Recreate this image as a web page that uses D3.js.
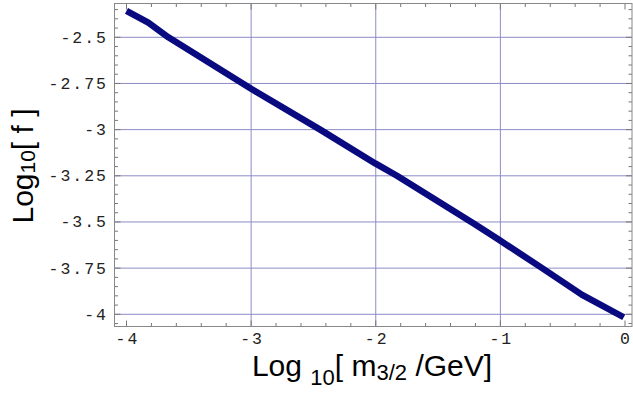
<!DOCTYPE html>
<html><head><meta charset="utf-8">
<script src="https://cdn.jsdelivr.net/npm/d3@7"></script>
<style>
body{margin:0;background:#fff;}
svg{display:block;}
</style></head>
<body>
<svg id="c" width="633" height="401"></svg>
<script>
const xVals = [-4.0, -3.825, -3.664, -3.0, -2.446, -2.004, -1.83, -1.214, -1.008, -0.665, -0.344, -0.01];
const yVals = [-2.357, -2.421, -2.5, -2.779, -3.0, -3.183, -3.25, -3.508, -3.598, -3.75, -3.895, -4.016];
const xTicks = [-4, -3, -2, -1, 0];
const xTickLabels = ["-4", "-3", "-2", "-1", "0"];
const yTicks = [-2.5, -2.75, -3, -3.25, -3.5, -3.75, -4];
const yTickLabels = ["-2.5", "-2.75", "-3", "-3.25", "-3.5", "-3.75", "-4"];
const xGrid = [-3, -2, -1];

const svg = d3.select("#c");
const L = 114.5, R = 632, T = 3.5, B = 326.5;
const x = d3.scaleLinear().domain([-4, 0]).range([126.5, 625]);
const y = d3.scaleLinear().domain([-2.5, -4]).range([37.3, 314.3]);

// grid
svg.append("g").selectAll("line").data(yTicks).join("line")
  .attr("x1", L).attr("x2", R).attr("y1", d => y(d)).attr("y2", d => y(d))
  .attr("stroke", "#8c8cc8").attr("stroke-width", 1);
svg.append("g").selectAll("line").data(xGrid).join("line")
  .attr("y1", T).attr("y2", B).attr("x1", d => x(d)).attr("x2", d => x(d))
  .attr("stroke", "#8c8cc8").attr("stroke-width", 1);

// minor/major ticks
const xMinor = d3.range(-4.0, 0.0001 + 0.06, 0.2).map(v => +v.toFixed(2)).filter(v => v <= 0.05);
const yMinor = d3.range(-2.35, -4.06, -0.05).map(v => +v.toFixed(2));
const tk = svg.append("g").attr("stroke", "#777").attr("stroke-width", 1);
xMinor.forEach(v => {
  const major = Math.abs(v - Math.round(v)) < 1e-6;
  const len = major ? 6 : 3.5;
  tk.append("line").attr("x1", x(v)).attr("x2", x(v)).attr("y1", B).attr("y2", B - len);
  tk.append("line").attr("x1", x(v)).attr("x2", x(v)).attr("y1", T).attr("y2", T + len);
});
yMinor.forEach(v => {
  const major = Math.abs(v * 4 - Math.round(v * 4)) < 1e-6;
  const len = major ? 6 : 3.5;
  tk.append("line").attr("y1", y(v)).attr("y2", y(v)).attr("x1", L).attr("x2", L + len);
  tk.append("line").attr("y1", y(v)).attr("y2", y(v)).attr("x1", R).attr("x2", R - len);
});

// frame
svg.append("rect").attr("x", L).attr("y", T).attr("width", R - L).attr("height", B - T)
  .attr("fill", "none").attr("stroke", "#888").attr("stroke-width", 1);

// tick labels
const mono = "'Liberation Mono', 'DejaVu Sans Mono', monospace";
svg.append("g").selectAll("text").data(xTicks).join("text")
  .attr("x", (d) => x(d) + 1).attr("y", 343.5)
  .attr("text-anchor", "middle")
  .attr("font-family", mono).attr("font-size", 16.5).attr("letter-spacing", 2)
  .attr("fill", "#222")
  .text((d, i) => xTickLabels[i]);
svg.append("g").selectAll("text").data(yTicks).join("text")
  .attr("x", 108).attr("y", d => y(d) + 5.5)
  .attr("text-anchor", "end")
  .attr("font-family", mono).attr("font-size", 16.5).attr("letter-spacing", 2)
  .attr("fill", "#222")
  .text((d, i) => yTickLabels[i]);

// line
const line = d3.line().x((d, i) => x(xVals[i])).y((d, i) => y(yVals[i]));
svg.append("path").datum(xVals).attr("d", line)
  .attr("fill", "none").attr("stroke", "#0a0a80").attr("stroke-width", 6.5)
  .attr("stroke-linejoin", "round");

// axis titles
const sans = "'Liberation Sans', Arial, Helvetica, sans-serif";
const xt = svg.append("text").attr("x", 372).attr("y", 376)
  .attr("text-anchor", "middle").attr("font-family", sans).attr("font-size", 30).attr("fill", "#000");
xt.append("tspan").text("Log ");
xt.append("tspan").attr("font-size", 22).attr("dy", 9).text("10");
xt.append("tspan").attr("dy", -9).text("[ m");
xt.append("tspan").attr("font-size", 22).attr("dy", 4).text("3/2");
xt.append("tspan").attr("dy", -4).text(" /GeV]");

const yt = svg.append("text").attr("transform", "translate(33,166) rotate(-90)")
  .attr("text-anchor", "middle").attr("font-family", sans).attr("font-size", 30).attr("fill", "#000");
yt.append("tspan").text("Log");
yt.append("tspan").attr("font-size", 21).attr("dy", 2).text("10");
yt.append("tspan").attr("dy", -2).text("[ f ]");
</script>
</body></html>
